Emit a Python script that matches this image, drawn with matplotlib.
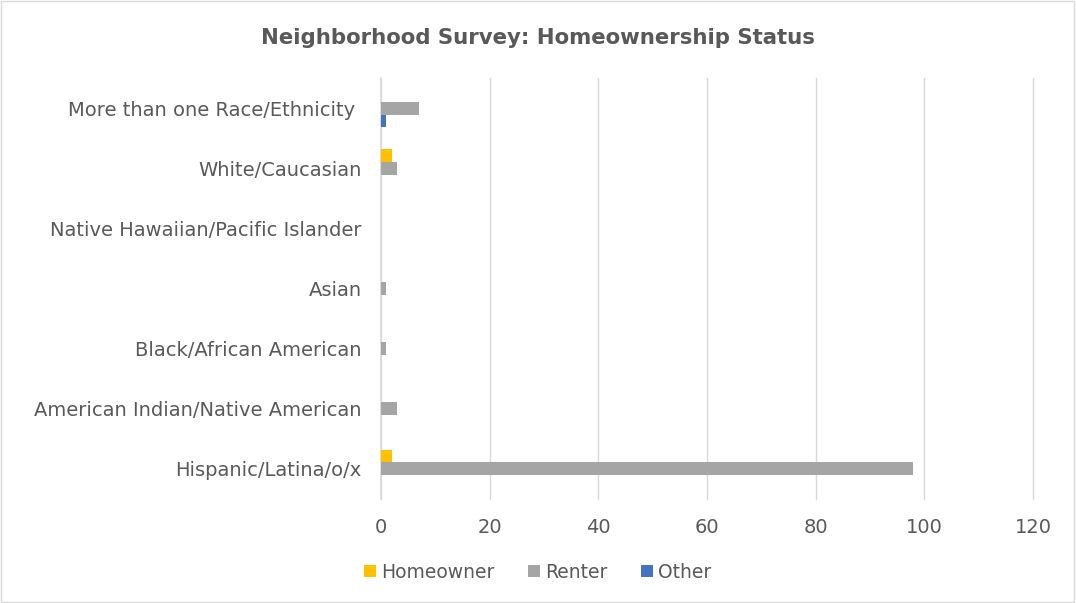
import matplotlib
matplotlib.use("Agg")
import matplotlib.pyplot as plt
import numpy as np
from matplotlib.patches import Rectangle

categories = ["Hispanic/Latina/o/x", "American Indian/Native American", "Black/African American",
              "Asian", "Native Hawaiian/Pacific Islander", "White/Caucasian",
              "More than one Race/Ethnicity "]
series_names = ["Homeowner", "Renter", "Other"]
homeowner = [2, 0, 0, 0, 0, 2, 0]
renter = [98, 3, 1, 1, 0, 3, 7]
other = [0, 0, 0, 0, 0, 0, 1]
colors = ["#FFC000", "#A5A5A5", "#4472C4"]
xticks = [0, 20, 40, 60, 80, 100, 120]

plt.rcParams['font.family'] = ['DejaVu Sans']
fig = plt.figure(figsize=(10.76, 6.03), dpi=100)
ax = fig.add_axes([381/1076, 1-499/603, (1033-381)/1076, (499-78)/603])

y = np.arange(len(categories))
h = 0.215
for vals, off, col, name in zip([homeowner, renter, other], [h, 0, -h], colors, series_names):
    ax.barh(y + off, vals, height=h, color=col, label=name, zorder=3)

ax.set_xlim(0, 120)
ax.set_ylim(-0.5, len(categories) - 0.5)
ax.set_xticks(xticks)
ax.set_yticks(y)
ax.set_yticklabels(categories)
ax.xaxis.grid(True, color="#D9D9D9", linewidth=1, zorder=0)
for gl in ax.get_xgridlines():
    gl.set_clip_on(False)
for s in ["top", "right", "bottom"]:
    ax.spines[s].set_visible(False)
ax.spines["left"].set_color("#D9D9D9")
ax.spines["left"].set_linewidth(1.2)
ax.tick_params(axis="both", length=0, colors="#595959", labelsize=14)
ax.tick_params(axis="x", pad=14)
ax.tick_params(axis="y", pad=14)

fig.text(0.5, 1-38/603, "Neighborhood Survey: Homeownership Status", ha="center", va="center",
         fontsize=15.3, fontweight="bold", color="#595959")

leg = fig.legend(loc="center", bbox_to_anchor=(0.5, 1-572/603), ncol=3, frameon=False,
                 fontsize=13.5, labelcolor="#595959", handlelength=0.6, handleheight=0.6,
                 handletextpad=0.3, columnspacing=1.8)

fig.patches.append(Rectangle((0.001, 0.001), 0.997, 0.997, transform=fig.transFigure,
                             fill=False, edgecolor="#D9D9D9", linewidth=1))
fig.savefig("out.png", dpi=100)
